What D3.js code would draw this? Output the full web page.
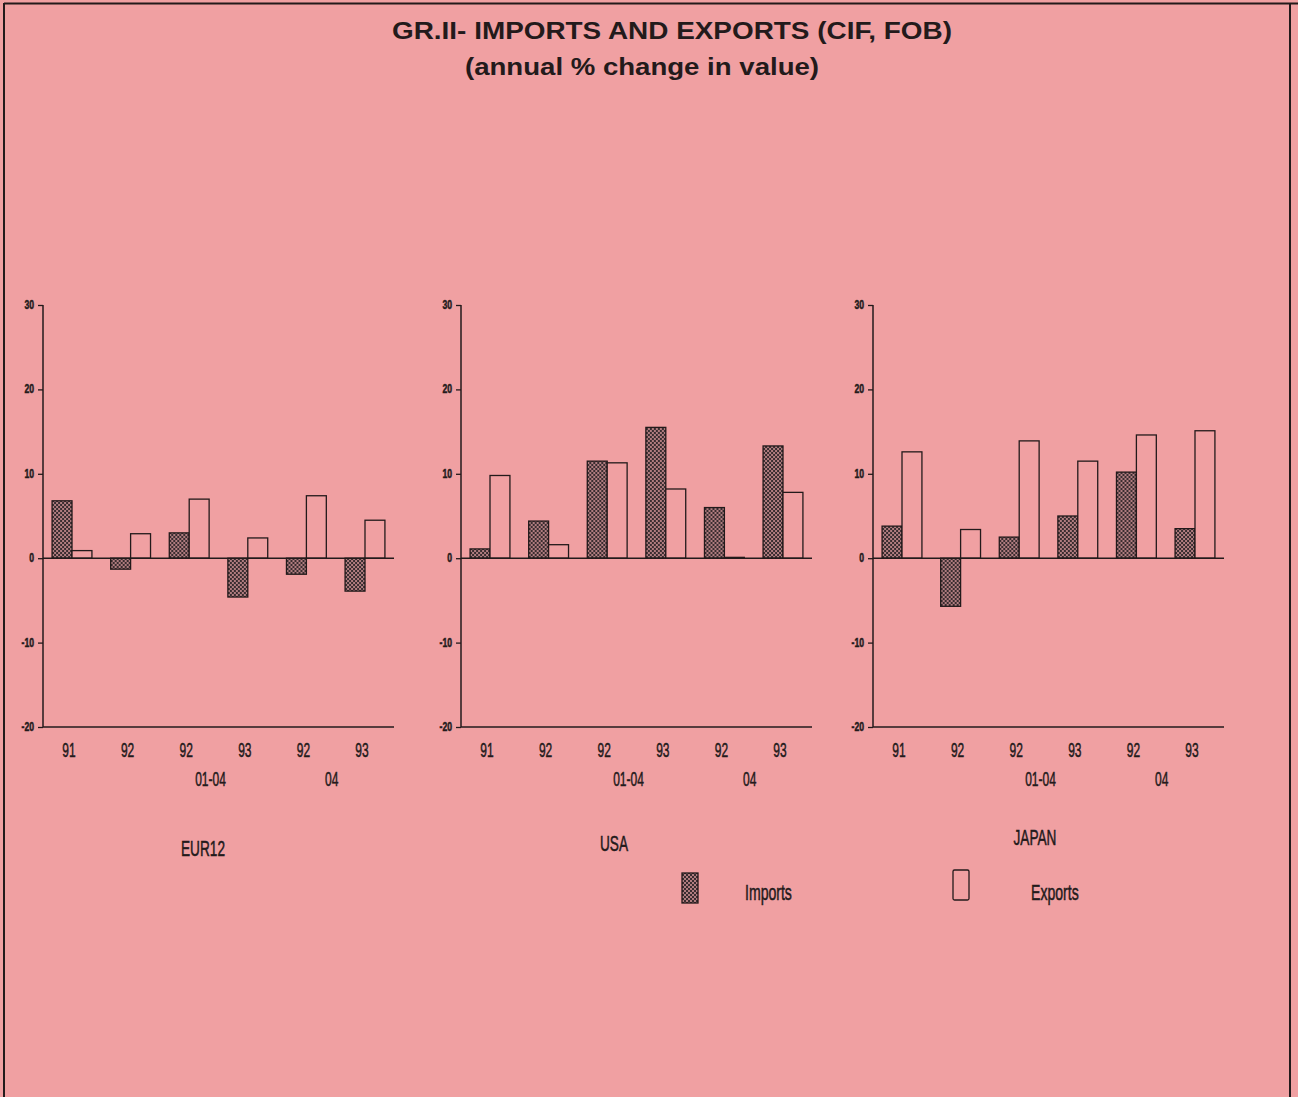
<!DOCTYPE html>
<html>
<head>
<meta charset="utf-8">
<script src="https://cdn.jsdelivr.net/npm/d3@7"></script>
<style>
  html, body { margin: 0; padding: 0; background: #F0A0A2; }
  svg { display: block; }
</style>
</head>
<body>
<svg id="chart" width="1298" height="1097"></svg>
<script>
// ---------- DATA ----------
const titleLine1 = "GR.II- IMPORTS AND EXPORTS (CIF, FOB)";
const titleLine2 = "(annual % change in value)";
const categories = ["91", "92", "92 01-04", "93 01-04", "92 04", "93 04"];
const tickLabels = ["91", "92", "92", "93", "92", "93"];
const periodLabels = ["01-04", "04"];
const yTicks = [-20, -10, 0, 10, 20, 30];
const regions = ["EUR12", "USA", "JAPAN"];
const importsEUR12 = [6.8, -1.3, 3.0, -4.6, -1.9, -3.9];
const exportsEUR12 = [0.9, 2.9, 7.0, 2.4, 7.4, 4.5];
const importsUSA = [1.1, 4.4, 11.5, 15.5, 6.0, 13.3];
const exportsUSA = [9.8, 1.6, 11.3, 8.2, 0.1, 7.8];
const importsJAPAN = [3.8, -5.7, 2.5, 5.0, 10.2, 3.5];
const exportsJAPAN = [12.6, 3.4, 13.9, 11.5, 14.6, 15.1];
const seriesNames = ["Imports", "Exports"];

const importsByRegion = [importsEUR12, importsUSA, importsJAPAN];
const exportsByRegion = [exportsEUR12, exportsUSA, exportsJAPAN];

// ---------- LAYOUT ----------
const ink = "#231a1b";
const bg = "#F0A0A2";
const svg = d3.select("#chart");
const FONT = "'Liberation Sans', Arial, sans-serif";

svg.append("rect").attr("width", 1298).attr("height", 1097).attr("fill", bg);

// scan frame lines
svg.append("line").attr("x1", 4).attr("y1", 3.5).attr("x2", 1298).attr("y2", 3.5)
  .attr("stroke", ink).attr("stroke-width", 2);
svg.append("line").attr("x1", 4).attr("y1", 3).attr("x2", 4).attr("y2", 1097)
  .attr("stroke", ink).attr("stroke-width", 2);
svg.append("line").attr("x1", 1290).attr("y1", 3).attr("x2", 1290).attr("y2", 1097)
  .attr("stroke", ink).attr("stroke-width", 2);

// pattern for imports
const defs = svg.append("defs");
const pat = defs.append("pattern").attr("id", "checker")
  .attr("patternUnits", "userSpaceOnUse").attr("width", 4).attr("height", 4);
pat.append("rect").attr("width", 4).attr("height", 4).attr("fill", "#b07c7f");
pat.append("rect").attr("x", 0).attr("y", 0).attr("width", 2).attr("height", 2).attr("fill", "#3a2d30");
pat.append("rect").attr("x", 2).attr("y", 2).attr("width", 2).attr("height", 2).attr("fill", "#3a2d30");

function narrow(g, x, y, txt, size, sx, anchor, weight) {
  return g.append("text")
    .attr("transform", `translate(${x},${y}) scale(${sx},1)`)
    .attr("text-anchor", anchor || "middle")
    .attr("font-family", FONT)
    .attr("font-size", size)
    .attr("font-weight", weight || "normal")
    .attr("fill", ink)
    .attr("stroke", ink)
    .attr("stroke-width", 0.5)
    .text(txt);
}

// title
svg.append("text").attr("x", 672).attr("y", 39).attr("text-anchor", "middle")
  .attr("font-family", FONT).attr("font-weight", "bold").attr("font-size", 24)
  .attr("fill", ink).attr("textLength", 560).attr("lengthAdjust", "spacingAndGlyphs")
  .text(titleLine1);
svg.append("text").attr("x", 642).attr("y", 75).attr("text-anchor", "middle")
  .attr("font-family", FONT).attr("font-weight", "bold").attr("font-size", 24)
  .attr("fill", ink).attr("textLength", 354).attr("lengthAdjust", "spacingAndGlyphs")
  .text(titleLine2);

const y = d3.scaleLinear().domain([-20, 30]).range([727, 305]);
const axisXs = [43, 461, 873];
const plotW = 351;
const regionLabelPos = [[203, 856], [614, 851], [1035, 845]];

regions.forEach((reg, ri) => {
  const x0 = axisXs[ri];
  const g = svg.append("g").attr("transform", `translate(${x0},0)`);
  const x = d3.scaleBand().domain(categories).range([0, plotW])
    .paddingInner(0.32).paddingOuter(0.155);
  const xs = d3.scaleBand().domain(seriesNames).range([0, x.bandwidth()]);

  // y axis
  const yAxis = d3.axisLeft(y).tickValues(yTicks).tickSize(5).tickFormat("");
  const ya = g.append("g").call(yAxis);
  ya.select(".domain").attr("stroke", ink).attr("stroke-width", 1.5)
    .attr("d", `M0,${y(30)}V${y(-20)}`);
  ya.selectAll(".tick line").attr("stroke", ink).attr("stroke-width", 1.3);
  yTicks.forEach(t => narrow(g, -9, y(t) + 4, String(t), 12, 0.72, "end", "bold"));

  // bottom axis line
  g.append("line").attr("x1", 0).attr("x2", plotW).attr("y1", y(-20)).attr("y2", y(-20))
    .attr("stroke", ink).attr("stroke-width", 1.5);

  const imp = importsByRegion[ri], exp = exportsByRegion[ri];
  const rows = categories.map((c, i) => ({ c, Imports: imp[i], Exports: exp[i] }));

  const grp = g.selectAll(".grp").data(rows).enter().append("g")
    .attr("transform", d => `translate(${x(d.c)},0)`);
  grp.selectAll("rect").data(d => seriesNames.map(s => ({ s, v: d[s] }))).enter()
    .append("rect")
    .attr("x", d => xs(d.s))
    .attr("width", xs.bandwidth())
    .attr("y", d => y(Math.max(0, d.v)))
    .attr("height", d => Math.abs(y(d.v) - y(0)))
    .attr("fill", d => d.s === "Imports" ? "url(#checker)" : bg)
    .attr("stroke", ink).attr("stroke-width", 1.3);

  // zero line
  g.append("line").attr("x1", 0).attr("x2", plotW).attr("y1", y(0)).attr("y2", y(0))
    .attr("stroke", ink).attr("stroke-width", 1.5);

  // category labels
  categories.forEach((c, i) => {
    narrow(g, x(c) + x.bandwidth() / 2 - 3, 757, tickLabels[i], 20, 0.6, "middle");
  });
  // period labels
  const p1 = (x(categories[2]) + x(categories[3]) + x.bandwidth()) / 2 - 8;
  const p2 = (x(categories[4]) + x(categories[5]) + x.bandwidth()) / 2 - 4;
  narrow(g, p1, 786, periodLabels[0], 20, 0.6, "middle");
  narrow(g, p2, 786, periodLabels[1], 20, 0.6, "middle");

  narrow(svg, regionLabelPos[ri][0], regionLabelPos[ri][1], reg, 22, 0.62, "middle");
});

// legend
const legend = svg.append("g");
legend.append("rect").attr("x", 682).attr("y", 873).attr("width", 16).attr("height", 30)
  .attr("fill", "url(#checker)").attr("stroke", ink).attr("stroke-width", 1.3);
narrow(legend, 745, 900, seriesNames[0], 22, 0.64, "start");
legend.append("rect").attr("x", 953).attr("y", 870).attr("width", 16).attr("height", 30)
  .attr("fill", bg).attr("stroke", ink).attr("stroke-width", 1.3).attr("rx", 1.5);
narrow(legend, 1031, 900, seriesNames[1], 22, 0.64, "start");
</script>
</body>
</html>
